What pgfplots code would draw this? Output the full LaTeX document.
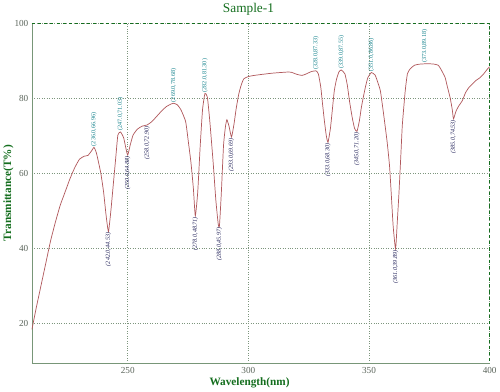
\documentclass[border=0pt]{standalone}
\usepackage{pgfplots}
\pgfplotsset{compat=1.18}
\usepackage{fontspec}
\setmainfont{Liberation Serif}
\definecolor{curve}{RGB}{176,88,92}
\definecolor{gtitle}{RGB}{20,110,30}
\definecolor{gridc}{RGB}{125,150,125}
\definecolor{axc}{RGB}{120,150,120}
\definecolor{peakc}{RGB}{20,130,140}
\definecolor{minc}{RGB}{35,35,90}
\definecolor{tickc}{RGB}{90,100,90}
\pgfplotstableread{
x y
210.3 18.5
212 24
214 30
216 36
218 42
220 47
222 51.5
224 55
226 58.5
228 61.5
230 63.8
232 64.6
233.5 64.8
235 66
236 66.96
237 65.5
238.8 60.2
240 55
241 49
242 44.53
243 50
243.8 55.6
245 64
245.9 70.2
247 71.03
248.3 69.5
249.3 66.5
250 64.88
251 67.5
252.2 70.2
254 71.8
256 72.6
258 72.90
260 73.8
262 75.2
264 76.6
266 77.8
268 78.5
269 78.68
270.5 78.3
272 77
274 73.8
275.2 68
276.2 62.9
277.2 56
278 48.71
279 55
280 67
281 77
282 81.30
283 80.3
284 74
285.4 62.9
286.5 53
287.5 46.5
288 45.97
288.8 55
289.7 67.5
290.5 72.5
291.1 74.3
292 72.5
293 69.69
294 73
295 77.5
296 81.1
297 83.5
298.1 85.2
300 85.8
302.4 86.1
306 86.4
310 86.7
314 86.9
316.5 87
318 86.9
320 86.4
322.2 86.1
324 86.5
326 87.1
328 87.33
329 86.5
330 83
330.6 79.3
331.5 74
332.3 70
333 68.30
334 72
334.8 77
335.6 82
336.5 85
337.5 87
338.5 87.55
340 86.5
341 83.5
341.9 79.3
343 75
344 72
345 71.20
346 74
346.8 77.5
347.6 80.2
348.5 83
349.5 85.5
351 86.86
352.5 86.2
353.5 84.5
354.7 82
356 76
357.5 68.4
358.5 62
359.2 54.7
360 46
361 39.89
361.7 47
362.4 54.7
363.2 65
363.8 72.9
365 82
365.9 86.5
367 87.8
368.8 88.8
371 89.1
373 89.18
375 89.2
377 89.1
378.7 88.8
380 87.5
381.5 85.6
382.5 83
383.6 80.2
384.5 77
385 74.53
386 76.5
387.2 78
388.6 79.3
390 81.5
391.4 82.9
392.8 83.8
394.2 84.7
396 85.5
397.5 86.5
399.2 87.9
400 88.4
}\spectrum
\pgfplotstableread{
x y lab
236 66.96 {(236.0,66.96)}
247 71.03 {(247.0,71.03)}
269 78.68 {(269.0,78.68)}
282 81.30 {(282.0,81.30)}
328 87.33 {(328.0,87.33)}
338.5 87.55 {(339.0,87.55)}
351 86.86 {(351.0,86.86)}
373 89.18 {(373.0,89.18)}
}\peaks
\pgfplotstableread{
x y lab
242 44.53 {(242.0,44.53)}
250 64.88 {(250.0,64.88)}
258 72.90 {(258.0,72.90)}
278 48.71 {(278.0,48.71)}
288 45.97 {(288.0,45.97)}
293 69.69 {(293.0,69.69)}
333 68.30 {(333.0,68.30)}
345 71.20 {(345.0,71.20)}
361 39.89 {(361.0,39.89)}
385 74.53 {(385.0,74.53)}
}\minima
\begin{document}
\begin{tikzpicture}
\begin{axis}[
  scale only axis, width=447pt, height=332pt,
  xmin=210.3, xmax=400, ymin=9.5, ymax=100,
  xtick={250,300,350,400}, ytick={20,40,60,80,100},
  grid=major,
  major grid style={dotted, gridc, line width=0.7pt},
  axis line style={axc, line width=0.8pt},
  axis x line*=bottom, axis y line*=left,
  major tick length=0pt,
  tick label style={font=\fontsize{9}{10}\selectfont, text=tickc},
  /pgf/number format/assume math mode=true,
  x tick label style={yshift=-1pt},
  ylabel={\textbf{Transmittance(T\%)}},
  ylabel style={text=gtitle, font=\fontsize{11}{12}\selectfont, yshift=-6pt},
  xlabel={\textbf{Wavelength(nm)}},
  xlabel style={text=gtitle, font=\fontsize{11}{12}\selectfont, xshift=-11pt, yshift=3pt},
  title={Sample-1},
  title style={text=gtitle, font=\fontsize{13}{14}\selectfont, at={(axis description cs:0.473,1)}, yshift=-2pt},
  clip=false,
]
\draw[gtitle, dashed, line width=1pt] (rel axis cs:0,1) -- (rel axis cs:1,1) -- (rel axis cs:1,0);
\addplot[curve, line width=0.7pt, smooth, tension=0.3] table[x=x,y=y] {\spectrum};
\addplot[only marks, mark=none, nodes near coords, point meta=explicit symbolic,
  nodes near coords style={rotate=90, anchor=west, font=\fontsize{6}{7}\selectfont, text=peakc, inner sep=1pt}]
  table[x=x,y=y,meta=lab] {\peaks};
\addplot[only marks, mark=none, nodes near coords, point meta=explicit symbolic,
  nodes near coords style={rotate=90, anchor=east, font=\fontsize{6}{7}\selectfont\itshape, text=minc, inner sep=1pt}]
  table[x=x,y=y,meta=lab] {\minima};
\end{axis}
\end{tikzpicture}
\end{document}
